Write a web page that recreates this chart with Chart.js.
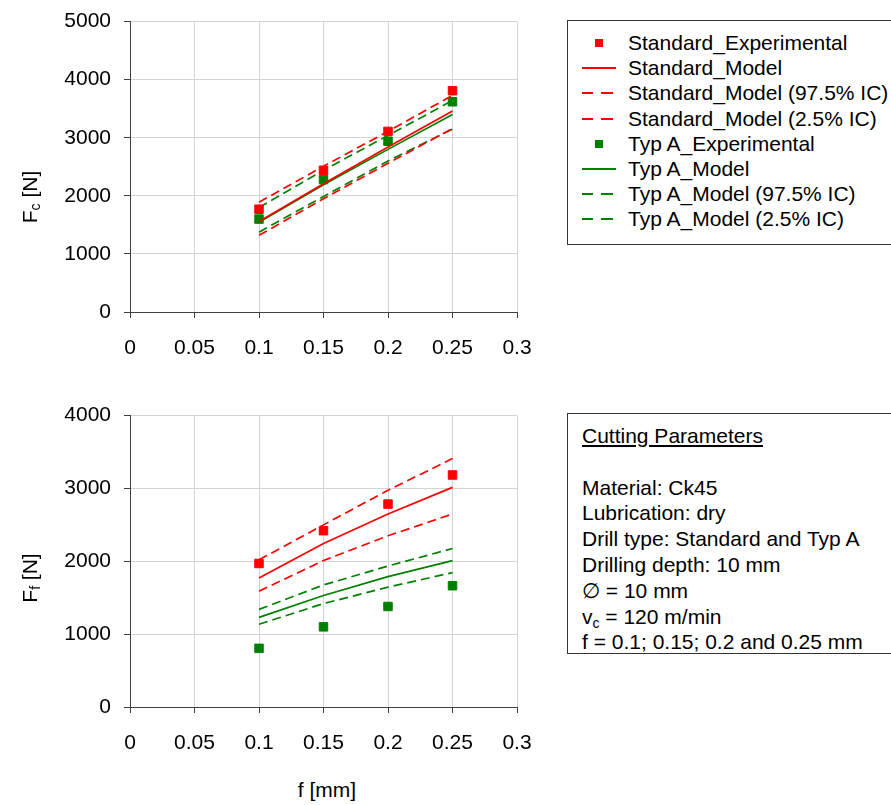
<!DOCTYPE html>
<html>
<head>
<meta charset="utf-8">
<script src="https://cdn.jsdelivr.net/npm/chart.js@4.4.1/dist/chart.umd.min.js"></script>
<style>
body { margin: 0; background: #fff; font-family: 'Liberation Sans', Arial, sans-serif; color: #000; }
#wrap { position: relative; width: 891px; height: 805px; overflow: hidden; }
.cv { position: absolute; left: 0; }
.title { position: absolute; font-size: 21px; white-space: nowrap; }
.title sub { font-size: 14px; vertical-align: -3px; line-height: 0; }
.box { position: absolute; left: 567px; width: 340px; border: 1px solid #333; font-size: 21px; }
.row { position: absolute; left: 0; height: 25px; width: 330px; }
.row span.txt { position: absolute; left: 60px; top: 0; line-height: 25px; white-space: nowrap; }
.sw { position: absolute; }
.box2 p { margin: 0; line-height: 25.8px; height: 25.8px; white-space: nowrap; }
.box2 sub { font-size: 14px; vertical-align: -4px; line-height: 0; }
</style>
</head>
<body>
<div id="wrap">
  <canvas id="fcChart" class="cv" width="560" height="380" style="top:-4px"></canvas>
  <canvas id="ffChart" class="cv" width="560" height="380" style="top:390px"></canvas>

  <div class="title" style="left:30px;top:197px;transform:translate(-50%,-50%) rotate(-90deg);">F<sub>c</sub> [N]</div>
  <div class="title" style="left:30px;top:578px;transform:translate(-50%,-50%) rotate(-90deg);">F<sub>f</sub> [N]</div>
  <div class="title" style="left:327px;top:790px;transform:translate(-50%,-50%);">f [mm]</div>

  <div id="legend" class="box" style="top:20px;height:223px;"></div>

  <div class="box box2" style="top:413px;height:241px;padding:9px 0 0 14px;box-sizing:border-box;">
    <p style="text-decoration:underline;">Cutting Parameters</p>
    <p>&nbsp;</p>
    <p>Material: Ck45</p>
    <p>Lubrication: dry</p>
    <p>Drill type: Standard and Typ A</p>
    <p>Drilling depth: 10 mm</p>
    <p>&#8709; = 10 mm</p>
    <p>v<sub>c</sub> = 120 m/min</p>
    <p>f = 0.1; 0.15; 0.2 and 0.25 mm</p>
  </div>
</div>

<script>
// feed rate f [mm]
var fValues = [0.1, 0.15, 0.2, 0.25];

var xTickLabels = ['0', '0.05', '0.1', '0.15', '0.2', '0.25', '0.3'];

var seriesLabels = [
    'Standard_Experimental',
    'Standard_Model',
    'Standard_Model (97.5% IC)',
    'Standard_Model (2.5% IC)',
    'Typ A_Experimental',
    'Typ A_Model',
    'Typ A_Model (97.5% IC)',
    'Typ A_Model (2.5% IC)'
];

// cutting force Fc [N]
var fcStdExp   = [1770, 2440, 3110, 3810];
var fcStdModel = [1560, 2210, 2840, 3460];
var fcStdUpper = [1890, 2510, 3110, 3730];
var fcStdLower = [1320, 1950, 2560, 3160];
var fcTypExp   = [1600, 2280, 2940, 3620];
var fcTypModel = [1545, 2190, 2800, 3400];
var fcTypUpper = [1800, 2440, 3040, 3640];
var fcTypLower = [1375, 1990, 2600, 3150];

// feed force Ff [N]
var ffStdExp   = [1970, 2420, 2785, 3185];
var ffStdModel = [1770, 2245, 2650, 3015];
var ffStdUpper = [2020, 2500, 2975, 3410];
var ffStdLower = [1590, 2010, 2350, 2650];
var ffTypExp   = [805, 1100, 1380, 1665];
var ffTypModel = [1230, 1530, 1790, 2010];
var ffTypUpper = [1340, 1675, 1935, 2175];
var ffTypLower = [1135, 1420, 1645, 1845];

var RED = '#ff0000';
var GREEN = '#008000';
var DASH = [9, 5];

// kind: 'exp' = squares, 'model' = solid line, 'ci' = dashed line
var seriesKinds  = ['exp', 'model', 'ci', 'ci', 'exp', 'model', 'ci', 'ci'];
var seriesColors = [RED, RED, RED, RED, GREEN, GREEN, GREEN, GREEN];

function toPoints(values) {
    var pts = [];
    for (var i = 0; i < fValues.length; i++) {
        pts.push({x: fValues[i], y: values[i]});
    }
    return pts;
}

function buildDatasets(seriesValues) {
    var sets = [];
    for (var i = 0; i < seriesValues.length; i++) {
        var kind = seriesKinds[i];
        var col = seriesColors[i];
        if (kind == 'exp') {
            sets.push({
                label: seriesLabels[i],
                data: toPoints(seriesValues[i]),
                showLine: false,
                pointStyle: 'rect',
                pointRadius: 6,
                pointBackgroundColor: col,
                pointBorderColor: col,
                pointBorderWidth: 1
            });
        } else {
            sets.push({
                label: seriesLabels[i],
                data: toPoints(seriesValues[i]),
                showLine: true,
                borderColor: col,
                borderWidth: 1.7,
                borderDash: kind == 'ci' ? DASH : [],
                pointRadius: 0,
                fill: false,
                tension: 0
            });
        }
    }
    return sets;
}

var tickFont = {family: "'Liberation Sans', Arial, sans-serif", size: 21};

function makeChart(id, seriesValues, yMax, xAxisHeight) {
    var ctx = document.getElementById(id);
    return new Chart(ctx, {
        type: 'scatter',
        data: { datasets: buildDatasets(seriesValues) },
        options: {
            responsive: false,
            animation: false,
            layout: { padding: {top: 16, right: 43, left: 0, bottom: 0} },
            plugins: { legend: {display: false}, tooltip: {enabled: false} },
            scales: {
                x: {
                    type: 'linear',
                    min: 0,
                    max: 0.3,
                    ticks: {
                        stepSize: 0.05,
                        color: '#000',
                        font: tickFont,
                        padding: 18,
                        maxRotation: 0,
                        callback: function(v, idx) { return xTickLabels[idx]; }
                    },
                    grid: { color: '#d4d4d4', tickColor: '#404040', tickLength: 6 },
                    border: { color: '#404040', width: 1 },
                    afterFit: function(scale) { scale.height = xAxisHeight; }
                },
                y: {
                    min: 0,
                    max: yMax,
                    ticks: {
                        stepSize: 1000,
                        color: '#000',
                        font: tickFont,
                        padding: 13,
                        callback: function(v) { return String(v); }
                    },
                    grid: { color: '#d4d4d4', tickColor: '#404040', tickLength: 6 },
                    border: { color: '#404040', width: 1 },
                    afterFit: function(scale) { scale.width = 130; }
                }
            }
        }
    });
}

var fcChart = makeChart('fcChart',
    [fcStdExp, fcStdModel, fcStdUpper, fcStdLower, fcTypExp, fcTypModel, fcTypUpper, fcTypLower],
    5000, 64);

var ffChart = makeChart('ffChart',
    [ffStdExp, ffStdModel, ffStdUpper, ffStdLower, ffTypExp, ffTypModel, ffTypUpper, ffTypLower],
    4000, 63);

// html legend built from the first chart's datasets
var legendBox = document.getElementById('legend');
var sets = fcChart.data.datasets;
for (var i = 0; i < sets.length; i++) {
    var row = document.createElement('div');
    row.className = 'row';
    row.style.top = (9 + i * 25.2) + 'px';
    var kind = seriesKinds[i];
    var col = seriesColors[i];
    var html = '';
    if (kind == 'exp') {
        html += '<div class="sw" style="left:27px;top:9px;width:8px;height:8px;background:' + col + '"></div>';
    } else if (kind == 'model') {
        html += '<div class="sw" style="left:14px;top:12px;width:34px;height:2px;background:' + col + '"></div>';
    } else {
        html += '<div class="sw" style="left:14px;top:12px;width:11px;height:2px;background:' + col + '"></div>';
        html += '<div class="sw" style="left:33px;top:12px;width:12px;height:2px;background:' + col + '"></div>';
    }
    html += '<span class="txt">' + sets[i].label + '</span>';
    row.innerHTML = html;
    legendBox.appendChild(row);
}
</script>
</body>
</html>
